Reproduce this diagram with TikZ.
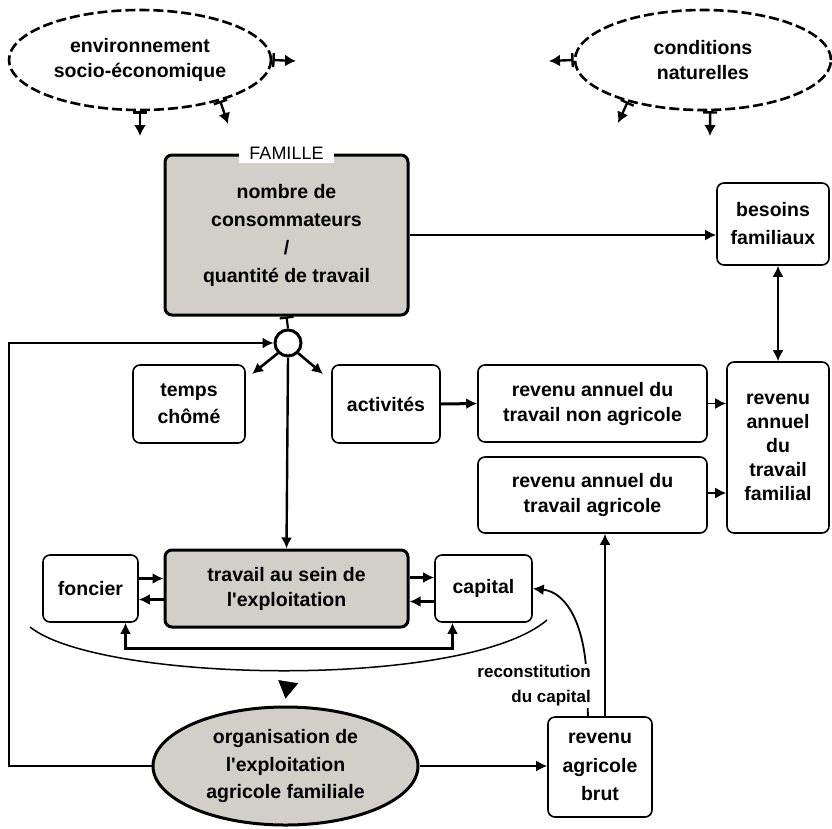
\documentclass[tikz,border=0pt]{standalone}
\usepackage{fontspec}
\setmainfont{Liberation Sans}
\usetikzlibrary{arrows.meta,shapes.geometric}
\definecolor{famgray}{RGB}{208,208,201}

\begin{document}
\begin{tikzpicture}[x=1pt, y=-1pt, >={Latex[length=11pt,width=11pt]},
  font=\fontsize{19.5}{25}\selectfont\bfseries,
  box/.style={draw, rounded corners=7pt, line width=1.6pt, align=center, inner sep=0pt},
  mainbox/.style={box, line width=3pt, fill=famgray},
  cloud/.style={ellipse, draw, line width=2.6pt, dash pattern=on 10pt off 4pt, align=center, inner sep=0pt},
  link/.style={->, line width=1.8pt},
  cause/.style={{Bar[width=14pt]}-{Latex[length=11pt,width=12pt]}, line width=2.4pt}]
  \useasboundingbox (0,0) rectangle (832,828);
  % outside influences
  \node[cloud, minimum width=262pt, minimum height=100pt] (env) at (140,60) {environnement\\socio-économique};
  \node[cloud, minimum width=256pt, minimum height=100pt] (cond) at (703,60) {conditions\\naturelles};
  \coordinate (envE) at (296,61);
  \coordinate (envS) at (140,136);
  \coordinate (envSE) at (228,124);
  \coordinate (condW) at (549,61);
  \coordinate (condS) at (710,136);
  \coordinate (condSW) at (618,123);
  \draw[cause] (env.east) -- (envE);
  \draw[cause] (env.south) -- (envS);
  \draw[cause] (env.-27) -- (envSE);
  \draw[cause] (cond.west) -- (condW);
  \draw[cause] (cond.-82) -- (condS);
  \draw[cause] (cond.209) -- (condSW);
  % family
  \node[mainbox, minimum width=243pt, minimum height=160pt, font=\fontsize{19.5}{28}\selectfont\bfseries] (fam) at (286.5,235)
        {nombre de\\consommateurs\\/\\quantité de travail};
  \node[fill=white, inner xsep=10pt, inner ysep=3pt, font=\fontsize{18}{20}\selectfont] (famlabel) at (fam.north) {FAMILLE};
  \node[box, minimum width=112pt, minimum height=82pt, font=\fontsize{19.5}{28}\selectfont\bfseries] (besoins) at (773,224) {besoins\\familiaux};
  \node[circle, draw, line width=3pt, fill=white, minimum size=26pt, inner sep=0pt] (circ) at (288,343) {};
  \node[box, minimum width=112pt, minimum height=78pt, font=\fontsize{19.5}{27}\selectfont\bfseries] (temps) at (189,404) {temps\\chômé};
  \node[box, minimum width=108pt, minimum height=78pt] (activ) at (386,404) {activités};
  % incomes
  \node[box, minimum width=229pt, minimum height=77pt] (nonagri) at (592.5,403.5) {revenu annuel du\\travail non agricole};
  \node[box, minimum width=229pt, minimum height=76pt] (agri) at (592.5,495) {revenu annuel du\\travail agricole};
  \node[box, minimum width=102pt, minimum height=171pt, font=\fontsize{19.5}{24}\selectfont\bfseries] (familial) at (778,447.5)
        {revenu\\annuel\\du\\travail\\familial};
  % farm
  \node[mainbox, minimum width=243pt, minimum height=77pt] (trav) at (286.5,588.5) {travail au sein de\\l\textquotesingle exploitation};
  \node[box, minimum width=95pt, minimum height=67pt] (foncier) at (90.5,588.5) {foncier};
  \node[box, minimum width=97pt, minimum height=67pt] (capital) at (483.5,588.5) {capital};
  \node[ellipse, draw, line width=3pt, fill=famgray, align=center, inner sep=0pt, minimum width=265pt, minimum height=118pt,
        font=\fontsize{19.5}{27.5}\selectfont\bfseries] (org) at (285.5,766) {organisation de\\l\textquotesingle exploitation\\agricole familiale};
  \node[box, minimum width=104pt, minimum height=100pt, font=\fontsize{19.5}{28.5}\selectfont\bfseries] (brut) at (600,767) {revenu\\agricole\\brut};
  % needs and labour split
  \draw[link] (fam.east) -- (fam.east -| besoins.west);
  \draw[link, <->] (familial.north |- besoins.south) -- (familial.north);
  \draw[{Bar[width=14pt]}-, line width=2.2pt] (fam.south) -- (circ.north);
  \coordinate (tempsNE) at (252,374);
  \coordinate (activNW) at (323,374);
  \draw[link, line width=2.4pt] (circ.south) -- (trav.north);
  \draw[link, line width=2.6pt] (circ.south west) -- (tempsNE);
  \draw[link, line width=2.6pt] (circ.south east) -- (activNW);
  \draw[link, line width=3pt] (activ.east) -- (nonagri.west);
  \draw[link] (nonagri.east) -- (nonagri.east -| familial.west);
  \draw[link] ([yshift=2pt]agri.east) -- ([yshift=2pt]agri.east -| familial.west);
  \draw[link] ([xshift=5pt]brut.north) -- ([xshift=5pt]brut.north |- agri.south);
  % land, labour, capital
  \draw[link, line width=2.6pt] ([yshift=10pt]foncier.east) -- ([yshift=10pt]trav.west);
  \draw[link, line width=2.6pt] ([yshift=-11pt]trav.west) -- ([yshift=-11pt]foncier.east);
  \draw[link, line width=2.6pt] ([yshift=11pt]trav.east) -- ([yshift=11pt]capital.west);
  \draw[link, line width=2.6pt] ([yshift=-13pt]capital.west) -- ([yshift=-13pt]trav.east);
  \draw[link, <->, line width=3pt] ([xshift=35pt]foncier.south) -- ++(0,26) -| ([xshift=-31pt]capital.south);
  % brace to organisation, loops back
  \draw[line width=1.5pt] (30,627) .. controls (100,683) and (465,690) .. (547,620);
  \coordinate (bracebot) at (288,683);
  \draw[-{Triangle[length=17pt,width=20pt]}] (bracebot) -- ([yshift=7pt]org.north);
  \coordinate (loopc) at (9,766);
  \draw[link] (org.west) -- (loopc) |- (circ.west);
  \draw[link] (org.east) -- (org.east -| brut.west);
  \draw[link] ([xshift=-12pt]brut.north) -- ++(-2,-50) .. controls (582,620) and (565,592) .. (capital.east);
  \node[fill=white, align=right, anchor=east, inner sep=2pt, font=\fontsize{17}{25}\selectfont\bfseries] (recon) at (593,686)
        {reconstitution\\du capital};
\end{tikzpicture}
\end{document}
